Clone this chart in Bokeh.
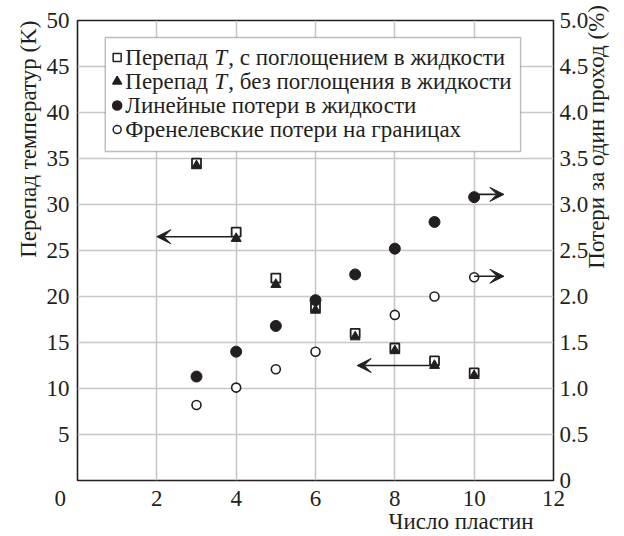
import math
from bokeh.plotting import figure
from bokeh.models import (Range1d, LinearAxis, FixedTicker, Arrow, VeeHead, Label,
                          BoxAnnotation, NumeralTickFormatter, ColumnDataSource)
from bokeh.embed import file_html
from bokeh.resources import INLINE

# ---------------- data ----------------
plates = [3, 4, 5, 6, 7, 8, 9, 10]
dT_with_abs = [34.5, 27.0, 22.0, 18.8, 16.0, 14.4, 13.0, 11.7]     # K, left axis
dT_no_abs = [34.2, 26.3, 21.3, 18.5, 15.6, 14.1, 12.5, 11.4]       # K, left axis
linear_loss = [1.13, 1.40, 1.68, 1.96, 2.24, 2.52, 2.81, 3.08]     # %, right axis
fresnel_plates = [3, 4, 5, 6, 8, 9, 10]
fresnel_loss = [0.82, 1.01, 1.21, 1.40, 1.80, 2.00, 2.21]          # %, right axis

x_ticks = [0, 2, 4, 6, 8, 10, 12]
x_tick_labels = ["0\u2003\u2002", "2", "4", "6", "8", "10", "12"]
y_ticks = [5, 10, 15, 20, 25, 30, 35, 40, 45, 50]
y_tick_labels = ["5", "10", "15", "20", "25", "30", "35", "40", "45", "50"]
pct_ticks = [0, 0.5, 1.0, 1.5, 2.0, 2.5, 3.0, 3.5, 4.0, 4.5, 5.0]

legend_labels = [
    ("Перепад ", "T", ", с поглощением в жидкости"),
    ("Перепад ", "T", ", без поглощения в жидкости"),
    ("Линейные потери в жидкости", "", ""),
    ("Френелевские потери на границах", "", ""),
]
x_label = "Число пластин"
y_label = "Перепад температур (K)"
y2_label = "Потери за один проход (%)"

FONT = "Liberation Serif"
FS = "23px"
INK = "#231f20"
GRID = "#c8c8c8"

p = figure(width=624, height=536, x_range=Range1d(0, 12), y_range=Range1d(0, 50),
           output_backend="svg", toolbar_location=None,
           min_border_left=77, min_border_right=69, min_border_top=20, min_border_bottom=56)
p.extra_y_ranges = {"pct": Range1d(0, 5)}
p.background_fill_color = "white"
p.border_fill_color = "white"
p.outline_line_color = INK
p.outline_line_width = 1.6

right = LinearAxis(y_range_name="pct", ticker=FixedTicker(ticks=pct_ticks),
                   formatter=NumeralTickFormatter(format="0.0"))
right.major_label_overrides = {0: "0"}
p.add_layout(right, "right")

p.xaxis.ticker = FixedTicker(ticks=x_ticks)
p.xaxis[0].major_label_overrides = dict(zip(x_ticks, x_tick_labels))
p.yaxis[0].ticker = FixedTicker(ticks=y_ticks)
p.yaxis[0].major_label_overrides = dict(zip(y_ticks, y_tick_labels))

# axis titles drawn as single tick labels of extra axes (so they sit outside the frame)
left_title = LinearAxis(ticker=FixedTicker(ticks=[50]),
                        major_label_overrides={50: y_label},
                        major_label_orientation=math.pi / 2, major_label_standoff=15)
p.add_layout(left_title, "left")
right_title = LinearAxis(y_range_name="pct", ticker=FixedTicker(ticks=[2.40]),
                         major_label_overrides={2.40: y2_label},
                         major_label_orientation=math.pi / 2, major_label_standoff=5)
p.add_layout(right_title, "right")
bottom_title = LinearAxis(ticker=FixedTicker(ticks=[9.67]),
                          major_label_overrides={9.67: x_label}, major_label_standoff=-5)
p.add_layout(bottom_title, "below")

p.xaxis[0].major_label_standoff = 5
p.yaxis[0].major_label_standoff = 8
right.major_label_standoff = 6
for ax in [p.xaxis[0], p.yaxis[0], right, left_title, right_title, bottom_title]:
    ax.axis_line_color = None
    ax.major_tick_line_color = None
    ax.minor_tick_line_color = None
    ax.major_tick_out = 0
    ax.major_tick_in = 0
    ax.minor_tick_out = 0
    ax.major_label_text_color = INK
    ax.major_label_text_font = FONT
    ax.major_label_text_font_size = FS

p.xgrid.ticker = FixedTicker(ticks=[2, 4, 6, 8, 10])
p.ygrid.ticker = FixedTicker(ticks=[5, 10, 15, 20, 25, 30, 35, 40, 45])
for g in [p.xgrid[0], p.ygrid[0]]:
    g.grid_line_color = GRID
    g.grid_line_width = 1.6

# ---------------- arrows ----------------
arrow_specs = [  # (x_start, x_end, y, range)
    (plates[1] - 0.1, 2.0, 26.5, "default"),
    (plates[6], 7.05, 12.5, "default"),
    (plates[7], 10.75, 3.11, "pct"),
    (fresnel_plates[6], 10.75, 2.22, "pct"),
]
for xs, xe, yy, rn in arrow_specs:
    p.add_layout(Arrow(end=VeeHead(size=14, fill_color=INK, line_color=INK, line_width=1),
                       x_start=xs, y_start=yy, x_end=xe, y_end=yy,
                       line_color=INK, line_width=1.6, y_range_name=rn))

# ---------------- series ----------------
src_t = ColumnDataSource(dict(x=plates, a=dT_with_abs, b=dT_no_abs, c=linear_loss))
src_f = ColumnDataSource(dict(x=fresnel_plates, f=fresnel_loss))

p.scatter("x", "a", source=src_t, marker="square", size=9, fill_color="white",
          line_color=INK, line_width=1.8)
p.scatter("x", "b", source=src_t, marker="triangle", size=10, fill_color=INK,
          line_color=INK, line_width=1)
p.scatter("x", "c", source=src_t, marker="circle", size=11, fill_color=INK,
          line_color=INK, y_range_name="pct")
p.scatter("x", "f", source=src_f, marker="circle", size=9, fill_color="white",
          line_color=INK, line_width=1.6, y_range_name="pct")

# ---------------- legend (manual, with italic T) ----------------
p.add_layout(BoxAnnotation(left=0.70, right=11.17, top=48.15, bottom=35.76,
                           fill_color="white", fill_alpha=1.0,
                           line_color=INK, line_width=1.4, level="annotation"))
row_y = [45.98, 43.37, 40.76, 38.15]
leg_markers = [("square", "white", 8), ("triangle", INK, 9), ("circle", INK, 9), ("circle", "white", 8)]
for (mk, fc, sz), yy in zip(leg_markers, row_y):
    r = p.scatter([1.0], [yy], marker=mk, size=sz, fill_color=fc, line_color=INK, line_width=1.5)
    r.level = "overlay"
for (a, t, b), yy in zip(legend_labels, row_y):
    p.add_layout(Label(x=1.205, y=yy, text=a, text_font=FONT, text_font_size=FS,
                       text_color=INK, text_baseline="middle", level="overlay"))
    if t:
        p.add_layout(Label(x=1.205, y=yy, x_offset=89, text=t, text_font=FONT,
                           text_font_style="italic", text_font_size=FS,
                           text_color=INK, text_baseline="middle", level="overlay"))
        p.add_layout(Label(x=1.205, y=yy, x_offset=103, text=b, text_font=FONT,
                           text_font_size=FS, text_color=INK,
                           text_baseline="middle", level="overlay"))

open("out.html", "w").write(file_html(p, INLINE))
